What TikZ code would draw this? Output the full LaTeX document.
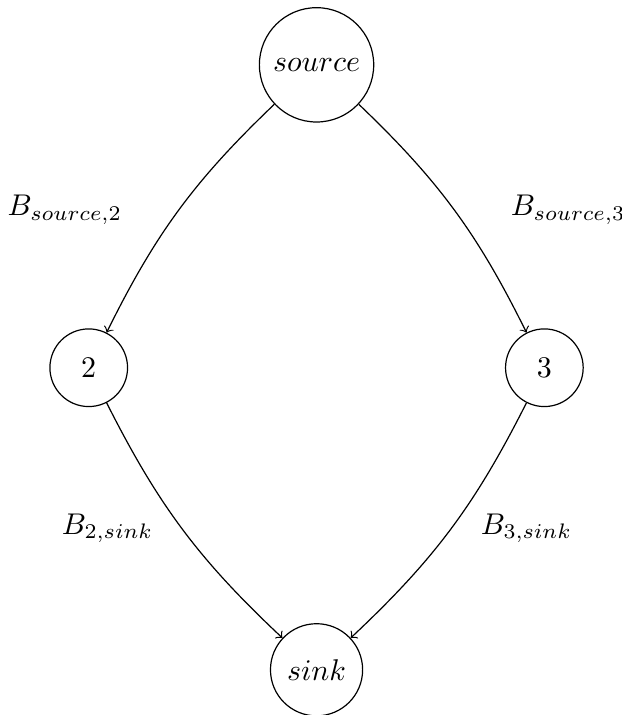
\documentclass[tikz,border=0pt]{standalone}
\usepackage{amssymb, amsmath}
\usetikzlibrary{positioning}

\begin{document}
\begin{tikzpicture}
  [on grid, vertex/.style={circle, draw, minimum size=9.1mm}]

\useasboundingbox (-3.71,0.76) rectangle (3.57,-7.62);

%%%  nodes

% top
\node [vertex, minimum size=13.4mm] (src) at (0,0) {$source$};

% middle
\node [vertex, below left=3.55cm and 2.67cm of src] (two) {$2$};
\node [vertex, below right=3.55cm and 2.67cm of src] (three) {$3$};

% bottom
\node [vertex, minimum size=10.8mm, below=7.09cm of src] (snk) {$sink$};

% capacities
\node (bs2) at (-2.95,-1.70) {$B_{source,2}$};
\node (bs3) at (2.95,-1.70) {$B_{source,3}$};
\node (b2s) at (-2.45,-5.43) {$B_{2,sink}$};
\node (b3s) at (2.46,-5.43) {$B_{3,sink}$};

%%%  edges
\draw [->] (src) to [bend right=10] (two);
\draw [->] (src) to [bend left=10] (three);
\draw [->] (two) to [bend right=10] (snk);
\draw [->] (three) to [bend left=10] (snk);

\end{tikzpicture}
\end{document}
